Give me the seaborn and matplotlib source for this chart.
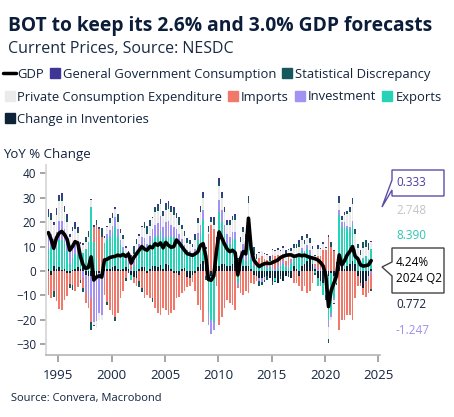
import numpy as np
import pandas as pd
import seaborn as sns
import matplotlib.pyplot as plt
from matplotlib.lines import Line2D
from matplotlib.patches import Polygon

# quarterly data 1994Q1 - 2024Q2, YoY % change contributions
quarters = pd.period_range('1994Q1', '2024Q2', freq='Q')

gdp = [15.7, 13.0, 9.3, 13.5, 15.5, 16.2, 15.0, 13.0, 8.5, 10.0, 12.0, 11.5,
       6.0, 2.5, 1.0, 1.5, 5.8, -3.7, -2.5, -2.0, -2.5, 4.5, 4.8, 5.5,
       5.8, 6.0, 6.5, 6.2, 6.8, 6.0, 7.0, 3.2, 5.5, 7.0, 8.5, 10.0,
       9.0, 8.5, 10.0, 9.5, 11.2, 10.5, 11.5, 9.5, 11.7, 10.5, 9.7, 10.0,
       12.7, 11.5, 10.0, 8.5, 7.1, 6.8, 6.4, 7.0, 7.8, 10.5, 11.2, 6.0,
       -3.5, -3.8, -2.0, 8.0, 16.0, 13.5, 11.0, 9.0, 7.9, 8.5, 7.5, -1.6,
       5.0, 7.9, 7.0, 21.6, 9.0, 4.5, 3.0, 1.8, 2.5, 3.0, 3.2, 3.0,
       3.5, 4.0, 4.5, 5.5, 6.0, 6.4, 6.6, 6.6, 6.0, 6.2, 6.6, 6.2,
       6.5, 6.0, 5.6, 5.3, 5.0, 4.5, 3.5, 2.0, -2.0, -14.6, -8.0, -5.0,
       -2.0, 6.6, 2.5, 4.2, 6.6, 8.0, 10.0, 6.0, 5.0, 2.5, 2.0, 2.2,
       2.5, 4.24]

inventories = [1.0, -1.5, 2.0, 1.0, 1.5, 0.5, 1.0, -1.0, -1.0, 0.5, 1.0, 1.5,
               1.0, 1.5, -1.5, -2.0, -2.0, -3.0, -1.5, -1.0, -1.0, 1.5, 1.0, 0.8,
               1.5, 2.0, 1.0, 0.5, 1.0, 1.5, 1.0, -1.5, -2.5, -3.0, 1.0, 1.5,
               1.5, -1.0, 1.0, 2.0, 2.0, 1.5, 2.5, 1.0, 3.0, 2.5, 1.0, -1.0,
               -1.0, -1.5, 1.0, 1.2, -2.5, -3.0, -1.5, -1.0, 1.5, 3.0, 4.0, 2.0,
               -3.0, -2.0, 1.0, 2.0, 2.0, 3.0, 3.0, 2.0, 2.0, 3.0, 4.0, 1.0,
               3.0, 2.0, 2.0, 2.0, 1.0, -1.5, -2.0, -3.0, -3.0, -2.5, -2.0, -3.0,
               -4.0, -3.0, -5.0, -2.0, -4.0, -2.0, -1.0, -3.0, 2.0, 1.0, -2.0, 2.0,
               3.0, 4.0, 5.0, 3.0, 1.0, -3.0, -4.0, -5.0, -4.0, -2.0, -1.0, -2.0,
               -3.0, 2.0, 2.0, 1.0, 2.0, 3.0, 4.0, 3.0, -2.0, -5.0, -7.0, -4.0,
               -2.0, 0.772]

exports = [8, 10, 7, 9, 11, 12, 10, 8, 3, 5, 6, 5,
           5, 6, 9, 12, 26, 12, 5, 0, 2, 10, 12, 13,
           14, 16, 13, 10, 7, 3, 1, -2, 2, 5, 7, 9,
           9, 8, 10, 11, 12, 13, 14, 12, 11, 12, 13, 14,
           13, 12, 10, 8, 8, 7, 6, 7, 11, 12, 17, 2,
           -14, -18, -21, 5, 22, 17, 12, 9, 9, 10, 9, -5,
           1, 3, 2, 10, 4, 2, 2, 1.5, 3, 2, 1, 1.5,
           0.5, -1, 1, 2, 3, 1.5, 1, 3, 4, 5, 6, 6,
           4, 5, 2, 2, -1, -3, -2, -5, -6, -18, -16, -9,
           -2, 21, 16, 17, 15, 14, 15, 5, 4, 2, 5, 6,
           5, 8.39]

investment = [6, 5, 4, 6, 8, 8, 6, 5, 5, 5, 4, 4,
              1, -3, -7, -11, -9, -18, -19, -16, -17, -3, 2, 3,
              3, 4, 3, 2, 2, 2, 1.5, 1, 2, 2.5, 3, 3.5,
              3, 3, 3.5, 4, 5, 5, 6, 5, 6, 6, 5, 4,
              4, 3, 2, 1.5, 0.5, 1, 1, 2, 3, 4, 4, 2,
              -5, -6, -3, 1, 5, 5, 4, 4, 3, 3, 3, -1,
              4, 6, 5, 9, 3, 1.5, 0.5, -1, -1.5, -1, 0.5, 0.5,
              1, 1, 1.5, 1.5, 1, 0.5, 1, 1, 0.5, 0.5, 1, 1.5,
              1, 1.5, 1.5, 1, 1, 1, 1, 0.5, 0.5, -3, -2, -1,
              1, 2, 2, 2, 1.5, 1, 1.5, 1, 0.5, 0.5, 0.5, -0.5,
              -1, -1.247]

imports = [-9.8, -9.7, -8.2, -12.4, -15.5, -15.9, -11.8, -9.2, -4.3, -5.9, -8.0, -6.5,
           -3.8, -3.8, -4.6, -2.0, -10.0, 6.0, 14.0, 17.0, 12.0, -7.0, -12.5, -16.0,
           -18.0, -19.0, -17.0, -11.0, -8.0, -3.0, 1.0, 1.5, -2.4, -3.0, -4.0, -7.0,
           -11.0, -9.0, -11.0, -11.0, -15.0, -17.0, -18.0, -15.0, -16.0, -18.0, -17.0, -15.0,
           -10.0, -9.0, -9.0, -8.0, -4.0, -3.0, -3.0, -7.0, -14.0, -16.0, -21.0, -2.0,
           15.0, 19.0, 16.0, -6.0, -22.0, -19.0, -15.0, -12.0, -13.0, -14.0, -16.0, -1.0,
           -9.0, -10.0, -8.0, -9.0, -5.0, -4.0, -2.0, 4.0, 3.0, 3.0, 3.0, 0.0,
           5.0, 5.0, 4.0, 2.0, 3.0, 2.0, 4.0, 1.0, -5.0, -5.0, -4.0, -8.0,
           -6.0, -9.0, -8.0, -5.0, 1.0, 5.0, 5.0, 8.0, 8.0, 14.0, 10.0, 8.0,
           2.0, -24.0, -20.0, -20.0, -18.0, -18.0, -20.0, -11.0, -4.0, -1.0, -3.0, -6.0,
           -6.0, -6.0]

private_consumption = [7, 6, 6, 7, 8, 8, 7, 7, 6, 6, 6, 5,
                       4, 3, 3, 2, 3, -1, -3, -3, -2, 2, 3, 3,
                       3, 3.5, 3, 3, 3, 3, 3, 3, 3, 3.5, 3.5, 4,
                       4, 4, 4, 4.5, 5, 5, 5, 4.5, 5, 5, 5, 5,
                       4.5, 4, 4, 3.5, 3, 3, 3, 3.5, 4, 5, 5, 3,
                       1, 1, 2, 4, 6, 5, 5, 4, 5, 5, 5, 3,
                       4, 5, 4, 7, 4, 3, 2.5, 2, 2, 2, 2, 2,
                       2, 2, 2, 2.5, 2.5, 2.5, 2.5, 3, 3, 3, 3, 3,
                       3, 3, 3, 3, 3, 3, 3, 2.5, 1, -5, -1, -1,
                       0, 3, 1, 3, 5, 6, 7, 6, 5, 4, 4, 4,
                       3.5, 2.748]

stat_discrepancy = [2.0, 1.5, -2.5, 1.5, 1.0, 2.0, 1.5, 2.0, -1.5, -2.0, 1.5, 1.2,
                    -1.0, -2.0, 1.5, 2.0, -3.0, -0.5, 1.5, 0.4, 3.0, 0.5, -1.3, 1.0,
                    1.5, -1.4, 2.8, 1.1, 1.2, -1.1, -1.0, 0.8, 3.0, 1.5, -2.5, -1.6,
                    1.9, 2.9, 1.8, -1.7, 1.4, 2.2, 1.1, 1.2, 1.7, 2.0, 1.8, 2.1,
                    1.5, 2.3, 1.4, 1.7, 1.5, 1.1, 0.3, 1.8, 1.5, 1.6, 1.3, -1.7,
                    1.7, 1.3, 2.0, 1.0, 1.5, 1.3, 1.0, 0.8, 1.1, 0.6, 1.7, 0.8,
                    1.3, 1.1, 1.2, 1.4, 1.2, 2.9, 1.5, -2.1, -1.3, -0.9, -1.8, 1.5,
                    -1.6, -0.7, 0.5, -1.1, -0.2, 1.1, -1.5, 1.1, 1.1, 1.2, 2.0, 1.2,
                    1.0, 0.9, 1.6, 0.9, -0.5, 1.0, 0.1, 0.6, -2.0, -1.4, 1.3, -0.6,
                    -0.6, 1.6, 0.7, 0.5, 0.6, 1.5, 2.1, 1.7, 1.3, 1.8, 2.3, 2.6,
                    2.7, -0.76]

gov_consumption = [1.5, 1.2, 1.0, 1.4, 1.5, 1.6, 1.3, 1.2, 1.3, 1.4, 1.5, 1.3,
                   0.8, 0.8, 0.6, 0.5, 0.6, 0.8, 0.5, 0.6, 0.5, 0.5, 0.6, 0.7,
                   0.8, 0.9, 0.7, 0.6, 0.6, 0.6, 0.5, 0.4, 0.4, 0.5, 0.5, 0.6,
                   0.6, 0.6, 0.7, 0.7, 0.8, 0.8, 0.9, 0.8, 1.0, 1.0, 0.9, 0.9,
                   0.7, 0.7, 0.6, 0.6, 0.6, 0.7, 0.6, 0.7, 0.8, 0.9, 0.9, 0.7,
                   0.8, 0.9, 1.0, 1.0, 1.5, 1.2, 1.0, 1.2, 0.8, 0.9, 0.8, 0.6,
                   0.7, 0.8, 0.8, 1.2, 0.8, 0.6, 0.5, 0.4, 0.3, 0.4, 0.5, 0.5,
                   0.6, 0.7, 0.5, 0.6, 0.7, 0.8, 0.6, 0.5, 0.4, 0.5, 0.6, 0.5,
                   0.5, 0.6, 0.5, 0.4, 0.5, 0.5, 0.4, 0.4, 0.5, 0.8, 0.7, 0.6,
                   0.6, 1.0, 0.8, 0.7, 0.5, 0.5, 0.4, 0.3, 0.2, 0.2, 0.2, 0.1,
                   0.3, 0.333]

# stacking order from the zero line outwards
series = [
    ('Change in Inventories', inventories, '#0e2238'),
    ('Exports', exports, '#27d2b6'),
    ('Investment', investment, '#a392f2'),
    ('Imports', imports, '#f0796b'),
    ('Private Consumption Expenditure', private_consumption, '#ebebeb'),
    ('Statistical Discrepancy', stat_discrepancy, '#15595f'),
    ('General Government Consumption', gov_consumption, '#3f3595'),
]
colors = {name: c for name, _, c in series}

df = pd.DataFrame({name: vals for name, vals, _ in series})
df['GDP'] = gdp
df['t'] = quarters.year + (quarters.quarter - 1) / 4

sns.set_theme(style='white')
plt.rcParams['font.family'] = ['Open Sans', 'DejaVu Sans']

navy = '#13243f'
fig = plt.figure(figsize=(4.54, 4.17), dpi=100)
ax = fig.add_axes([46 / 454, 1 - 355 / 417, 334 / 454, 190 / 417])


def px(x, y):
    return x / 454, 1 - y / 417


pos = np.zeros(len(df))
neg = np.zeros(len(df))
for name, _, c in series:
    v = df[name].to_numpy(dtype=float)
    base = np.where(v >= 0, pos, neg)
    ax.bar(df['t'], v, bottom=base, width=0.15, color=c, linewidth=0, align='edge')
    pos = pos + np.where(v >= 0, v, 0)
    neg = neg + np.where(v < 0, v, 0)

sns.lineplot(x=df['t'] + 0.075, y=df['GDP'], color='black', lw=2.6, ax=ax, legend=False)

ax.set_xlim(1993.85, 2025.15)
ax.set_ylim(-34.4, 43.4)
ax.set_yticks(range(-30, 41, 10))
ax.set_xticks(range(1995, 2026, 5))
ax.set_xlabel('')
ax.set_ylabel('')
for s in ['top', 'right']:
    ax.spines[s].set_visible(False)
ax.spines['left'].set_color('#d6d6d6')
ax.spines['bottom'].set_color('#b8b8b8')
ax.tick_params(axis='y', length=4, color='#9a9a9a', labelsize=8.5, labelcolor=navy, pad=3, left=True)
ax.tick_params(axis='x', length=5, color='#9a9a9a', labelsize=9.5, labelcolor=navy, pad=5, bottom=True)

# titles
fig.text(*px(8, 31), 'BOT to keep its 2.6% and 3.0% GDP forecasts', fontsize=13.9,
         fontweight='bold', color='#0b1d3a')
fig.text(*px(8, 53), 'Current Prices, Source: NESDC', fontsize=11.5, color='#1a2a44')
fig.text(*px(3, 158), 'YoY % Change', fontsize=9.5, color=navy)
fig.text(*px(11, 401), 'Source: Convera, Macrobond', fontsize=8, color=navy)


# legend rows
def sq(name):
    return Line2D([], [], marker='s', markersize=6.5, linestyle='none', color=colors[name], label=name)


rows = [
    [Line2D([], [], color='black', lw=2.5, label='GDP'), sq('General Government Consumption'),
     sq('Statistical Discrepancy')],
    [sq('Private Consumption Expenditure'), sq('Imports'), sq('Investment'), sq('Exports')],
    [sq('Change in Inventories')],
]
for i, handles in enumerate(rows):
    fig.legend(handles=handles, loc='upper left', bbox_to_anchor=px(3, 68 + i * 22.5),
               ncol=len(handles), frameon=False, fontsize=9.4, handlelength=1.0,
               handletextpad=0.1, columnspacing=0.35, borderaxespad=0, borderpad=0,
               labelcolor=navy)

# end-value labels
fig.add_artist(Polygon([px(392, 170), px(392, 180), px(382, 207), px(392, 190), px(392, 196),
                        px(444, 196), px(444, 170)], closed=True, transform=fig.transFigure,
                       facecolor='white', edgecolor='#5a4fa8', lw=1))
fig.add_artist(Polygon([px(392, 248), px(444, 248), px(444, 293), px(392, 293), px(392, 276),
                        px(382, 267), px(392, 262)], closed=True, transform=fig.transFigure,
                       facecolor='white', edgecolor='#444444', lw=1))
labels = [
    (183, '0.333', '#4a3f9f'),
    (210, '2.748', '#c3c3cb'),
    (235, '8.390', '#2cc7b0'),
    (263, '4.24%', 'black'),
    (278, '2024 Q2', 'black'),
    (305, '0.772', navy),
    (331, '-1.247', '#9c8ff0'),
]
for y, t, c in labels:
    fig.text(*px(396, y), t, fontsize=8.5, color=c, va='center')

fig.savefig('out.png', dpi=100)
